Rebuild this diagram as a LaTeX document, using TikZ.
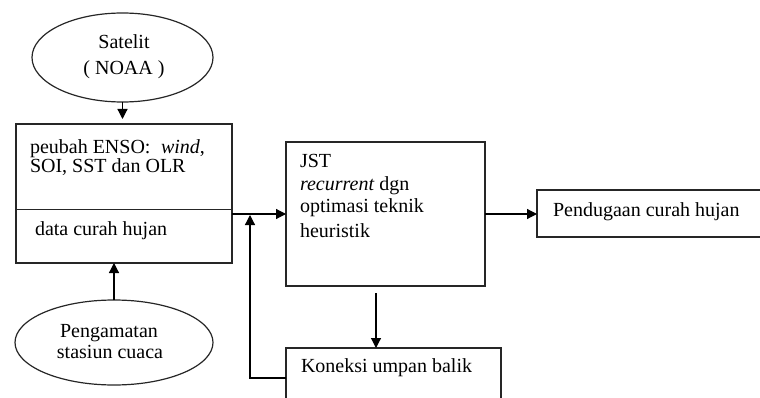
\documentclass[tikz,border=0pt]{standalone}
\usepackage{fontspec}
\setmainfont{Liberation Serif}
\usetikzlibrary{shapes.geometric,arrows.meta}
\begin{document}
\begin{tikzpicture}[x=1pt,y=-1pt,
  line width=1.2pt,
  every node/.style={inner sep=0pt,outer sep=0pt},
  box/.style={draw=black!85,rectangle,anchor=north west},
  oval/.style={draw=black!85,ellipse},
  txt/.style={font=\fontsize{20}{23}\selectfont,anchor=base west},
  ctxt/.style={font=\fontsize{20}{23}\selectfont,anchor=base},
  arr/.style={-{Triangle[length=10pt,width=10pt]},black}]
\useasboundingbox (0,0) rectangle (760,398);
\clip (0,0) rectangle (760,398);
% shapes
\node[oval,minimum width=181pt,minimum height=89pt] (sat) at (122.5,57.5) {};
\node[oval,minimum width=198pt,minimum height=85pt] (obs) at (114,342.5) {};
\node[box,minimum width=216pt,minimum height=139pt] (inp) at (16,124) {};
\node[box,minimum width=199pt,minimum height=144pt] (jst) at (286,142) {};
\node[box,minimum width=215pt,minimum height=80pt] (kon) at (286,348) {};
\node[box,minimum width=260pt,minimum height=47pt] (out) at (537,190) {};
\draw[black!85] (inp.west |- 0,209.5) -- (inp.east |- 0,209.5);
% texts
\node[ctxt] (t1) at (124,49) {Satelit};
\node[ctxt] (t2) at (124,75) {( NOAA~)};
\node[txt,align=left,font=\fontsize{20}{18}\selectfont] (t3) at (30,173) {peubah ENSO:\; \textit{wind},\\SOI, SST dan OLR};
\node[txt] (t5) at (35,235) {data curah hujan};
\node[ctxt] (t6) at (109,337) {Pengamatan};
\node[ctxt] (t7) at (110,358) {stasiun cuaca};
\node[txt] (t8) at (300,168) {JST};
\node[txt] (t9) at (300,191) {\textit{recurrent} dgn};
\node[txt] (t10) at (300,213) {optimasi teknik};
\node[txt] (t11) at (300,237) {heuristik};
\node[txt] (t12) at (301,372) {Koneksi umpan balik};
\node[txt] (t13) at (553,216) {Pendugaan curah hujan};
% connectors
\coordinate (ia) at (inp.east |- 0,214);
\coordinate (ja) at (jst.west |- 0,214);
\coordinate (jb) at (jst.east |- 0,214);
\coordinate (oa) at (out.west |- 0,214);
\coordinate (fb) at (250,378);
\coordinate (fu) at (250,215);
\draw[arr,shorten >=5pt] (sat.south) -- (inp.north -| sat.south);
\draw[arr] (obs.north) -- (inp.south -| obs.north);
\draw[arr] (ia) -- (ja);
\draw[arr] (jb) -- (oa);
\draw[arr] (kon.west |- fb) -- (fb) -- (fu);
\coordinate (jd) at (376,293);
\draw[arr] (jd) -- (jd |- kon.north);
\end{tikzpicture}
\end{document}
